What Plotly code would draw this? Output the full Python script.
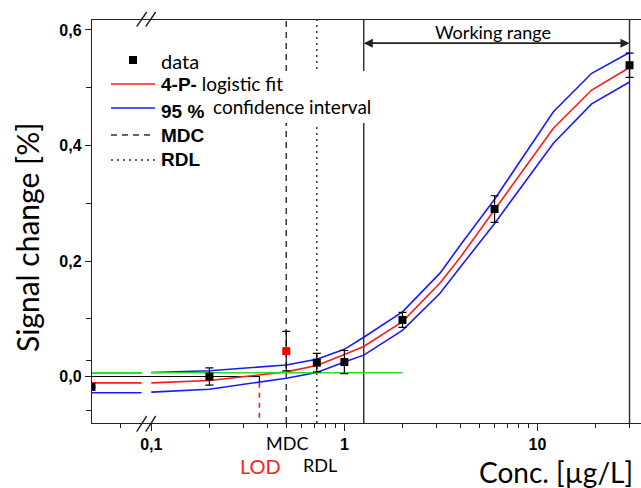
import math
import plotly.graph_objects as go

# ---------------- data ----------------
data_x = [0.049, 0.2, 0.5, 0.72, 1.0, 2.0, 6.0, 30.0]
data_y = [-0.018, 0.0, 0.044, 0.024, 0.025, 0.098, 0.290, 0.539]
data_err = [0.0, 0.015, 0.034, 0.016, 0.020, 0.013, 0.023, 0.021]
data_color = ["black", "black", "red", "black", "black", "black", "black", "black"]

# fitted curve and 95 % confidence band (right of the axis break)
fit_x = [0.1, 0.2, 0.5, 0.72, 1.0, 1.26, 2.0, 3.13, 4.0, 6.0, 12.1, 19.1, 30.0]
fit_y = [-0.011, -0.007, 0.008, 0.019, 0.038, 0.052, 0.095, 0.162, 0.207, 0.288, 0.430, 0.496, 0.535]
ci_up = [0.007, 0.010, 0.020, 0.030, 0.047, 0.068, 0.112, 0.179, 0.228, 0.307, 0.4585, 0.525, 0.561]
ci_lo = [-0.027, -0.022, -0.003, 0.007, 0.025, 0.037, 0.080, 0.144, 0.190, 0.265, 0.404, 0.472, 0.510]

# left of the axis break (blank level)
blank_x = [0.049, 0.089]
blank_fit = [-0.011, -0.011]
blank_up = [0.0066, 0.0066]
blank_lo = [-0.028, -0.028]

# green threshold line
green_y = 0.0066
green_x_right = [0.1, 2.0]

# limits
LOD = 0.363
MDC = 0.5
RDL = 0.72
WR_LOW = 1.26
WR_HIGH = 30.0
LOD_Y = -0.011

y_tickvals = [0.0, 0.2, 0.4, 0.6]
y_ticktext = ["0,0", "0,2", "0,4", "0,6"]
y_minor = [-0.058, 0.027, 0.1, 0.3, 0.5]
x_tickvals = [0.1, 1, 10]
x_ticktext = ["0,1", "1", "10"]
x_minor = [0.0695, 0.2, 0.3, 0.4, 0.5, 0.6, 0.7, 0.8, 0.9,
           2, 3, 4, 5, 6, 7, 8, 9, 20, 30]

# ---------------- layout geometry ----------------
W, H = 641, 488
L, R, T, B = 92, 0, 20, 65
PW, PH = W - L - R, H - T - B
X_RANGE = [math.log10(0.0493), math.log10(34.4)]
Y_RANGE = [-0.0805, 0.6173]


def px(x):
    return (x - L) / PW


def py(y):
    return (H - B - y) / PH


RED = "#ff1a1a"
BLUE = "#1a1aff"
GREEN = "#22e022"
CAL = "Lato"
ARB = "Liberation Sans"

fig = go.Figure()

# blank segments (left of break)
fig.add_trace(go.Scatter(x=blank_x, y=blank_lo, mode="lines", line=dict(color=BLUE, width=1.6)))
fig.add_trace(go.Scatter(x=blank_x, y=blank_up, mode="lines", line=dict(color=BLUE, width=1.6)))
fig.add_trace(go.Scatter(x=blank_x, y=blank_fit, mode="lines", line=dict(color=RED, width=1.6)))
fig.add_trace(go.Scatter(x=blank_x, y=[green_y, green_y], mode="lines", line=dict(color=GREEN, width=1.6)))

# zero line to LOD and LOD marker
fig.add_trace(go.Scatter(x=[blank_x[0], LOD, LOD], y=[0, 0, LOD_Y], mode="lines",
                         line=dict(color="black", width=1.2)))
fig.add_trace(go.Scatter(x=[LOD, LOD], y=[LOD_Y, Y_RANGE[0]], mode="lines",
                         line=dict(color=RED, width=1.6, dash="5px,5px")))

# confidence band and fit
fig.add_trace(go.Scatter(x=fit_x, y=ci_lo, mode="lines", line=dict(color=BLUE, width=1.6)))
fig.add_trace(go.Scatter(x=fit_x, y=ci_up, mode="lines", line=dict(color=BLUE, width=1.6)))
fig.add_trace(go.Scatter(x=fit_x, y=fit_y, mode="lines", line=dict(color=RED, width=1.6)))
fig.add_trace(go.Scatter(x=green_x_right, y=[green_y, green_y], mode="lines",
                         line=dict(color=GREEN, width=1.6)))

# data points
fig.add_trace(go.Scatter(
    x=data_x, y=data_y, mode="markers",
    marker=dict(symbol="square", size=8, color=data_color),
    error_y=dict(type="data", array=data_err, visible=True, color="black",
                 thickness=1.2, width=4),
))

shapes = []
# vertical lines
for xv, dash, width in [(MDC, "6px,5px", 1.4), (RDL, "2px,4px", 1.4),
                        (WR_LOW, "solid", 1.4), (WR_HIGH, "solid", 1.4)]:
    shapes.append(dict(type="line", xref="x", yref="paper", x0=xv, x1=xv, y0=0, y1=1,
                       line=dict(color="#2a2a2a", width=width, dash=dash), layer="below"))
# white box behind legend text
shapes.append(dict(type="rect", xref="paper", yref="paper", x0=px(160), x1=px(384),
                   y0=py(123), y1=py(71), fillcolor="white", line=dict(width=0), layer="below"))
# axis break marks
for (x0, y0, x1, y1) in [(136.7, 431.7, 146.7, 416), (145.7, 431.7, 155.7, 416),
                         (136.7, 26.7, 146.7, 12), (145.7, 26.7, 155.7, 12)]:
    shapes.append(dict(type="line", xref="paper", yref="paper", x0=px(x0), x1=px(x1),
                       y0=py(y0), y1=py(y1), line=dict(color="#222222", width=1.4)))
# legend glyphs
shapes.append(dict(type="rect", xref="paper", yref="paper", x0=px(129), x1=px(137),
                   y0=py(64), y1=py(56), fillcolor="black", line=dict(width=0)))
shapes.append(dict(type="line", xref="paper", yref="paper", x0=px(111), x1=px(155),
                   y0=py(84), y1=py(84), line=dict(color=RED, width=1.6)))
shapes.append(dict(type="line", xref="paper", yref="paper", x0=px(111), x1=px(155),
                   y0=py(108), y1=py(108), line=dict(color=BLUE, width=1.6)))
shapes.append(dict(type="line", xref="paper", yref="paper", x0=px(111), x1=px(155),
                   y0=py(135), y1=py(135), line=dict(color="#333333", width=1.4, dash="6px,5px")))
shapes.append(dict(type="line", xref="paper", yref="paper", x0=px(111), x1=px(155),
                   y0=py(160), y1=py(160), line=dict(color="#333333", width=1.4, dash="2px,4px")))

annotations = []


def ann(x, y, text, size, color="black", family=CAL, xanchor="left", **kw):
    d = dict(xref="paper", yref="paper", x=px(x), y=py(y), text=text, showarrow=False,
             xanchor=xanchor, yanchor="middle", borderpad=0,
             font=dict(family=family, size=size, color=color))
    d.update(kw)
    annotations.append(d)


bold = lambda t: f'<span style="font-family:{ARB}"><b>{t}</b></span>'
ann(160, 61, "data", 20)
ann(160, 83, bold("4-P-") + " logistic fit", 19)
ann(160, 111, bold("95 %"), 19)
ann(212, 106, "confidence interval", 19)
ann(160, 135, bold("MDC"), 19, family=ARB)
ann(160, 160, bold("RDL"), 19, family=ARB)
ann(493, 32, "Working range", 18, xanchor="center")
ann(287, 443, "MDC", 18, xanchor="center")
ann(320, 465, "RDL", 18, xanchor="center")
ann(260, 466, "LOD", 20, color="#ff2020", xanchor="center")
ann(556, 472, "Conc. [µg/L]", 28, xanchor="center")
ann(27, 238, "Signal change [%]", 30, xanchor="center", textangle=-90)

# working range double arrow
ARROW_Y = 0.577
for head, tail in [(WR_HIGH, WR_LOW), (WR_LOW, WR_HIGH)]:
    annotations.append(dict(xref="x", yref="y", axref="x", ayref="y",
                            x=math.log10(head), y=ARROW_Y, ax=math.log10(tail), ay=ARROW_Y,
                            text="", showarrow=True, arrowhead=2, arrowsize=1.3,
                            arrowwidth=1.4, arrowcolor="#222222"))

fig.update_layout(
    width=W, height=H, margin=dict(l=L, r=R, t=T, b=B),
    paper_bgcolor="white", plot_bgcolor="white", showlegend=False,
    shapes=shapes, annotations=annotations,
    xaxis=dict(type="log", range=X_RANGE, showgrid=False, zeroline=False,
               showline=True, linecolor="#222222", linewidth=1.4, mirror=True,
               ticks="outside", ticklen=7, tickwidth=1.3, tickcolor="#222222",
               tickvals=x_tickvals, ticktext=x_ticktext,
               tickfont=dict(family=ARB, size=16, color="black", weight="bold"),
               minor=dict(tickvals=x_minor, ticks="outside", ticklen=4, tickwidth=1.2,
                          tickcolor="#222222")),
    yaxis=dict(range=Y_RANGE, showgrid=False, zeroline=False,
               showline=True, linecolor="#222222", linewidth=1.4, mirror=False,
               ticks="outside", ticklen=6, tickwidth=1.3, tickcolor="#222222",
               tickvals=y_tickvals, ticktext=y_ticktext,
               tickfont=dict(family=ARB, size=16, color="black", weight="bold"),
               minor=dict(tickvals=y_minor, ticks="outside", ticklen=5, tickwidth=1.2,
                          tickcolor="#222222")),
)

fig.write_html("out.html")
